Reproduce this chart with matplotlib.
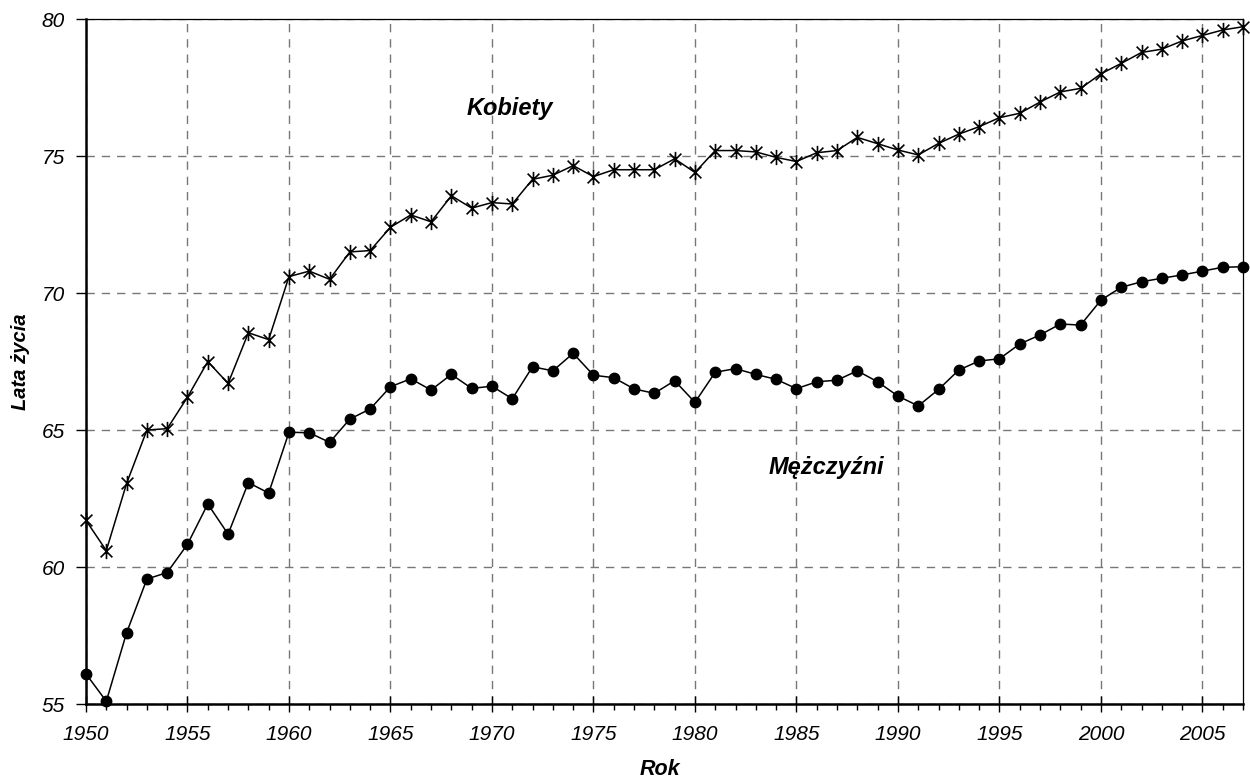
import numpy as np
import matplotlib
matplotlib.use("Agg")
import matplotlib.pyplot as plt
from matplotlib.path import Path
from matplotlib.ticker import MultipleLocator

plt.rcParams['font.family'] = ['Liberation Sans', 'DejaVu Sans']

# life expectancy in Poland, 1950-2007
years = list(range(1950, 2008))

kobiety = [61.7, 60.6, 63.05, 65.0, 65.05, 66.2, 67.5, 66.7, 68.55, 68.3,
           70.6, 70.8, 70.5, 71.5, 71.55, 72.4, 72.85, 72.6, 73.55, 73.1,
           73.3, 73.25, 74.15, 74.3, 74.65, 74.25, 74.5, 74.5, 74.5, 74.9,
           74.4, 75.2, 75.2, 75.15, 74.95, 74.8, 75.12, 75.2, 75.68, 75.45,
           75.22, 75.04, 75.46, 75.8, 76.07, 76.4, 76.56, 76.97, 77.34, 77.47,
           78.0, 78.38, 78.78, 78.9, 79.2, 79.4, 79.6, 79.72]

mezczyzni = [56.1, 55.1, 57.6, 59.56, 59.8, 60.83, 62.3, 61.2, 63.08, 62.7,
             64.92, 64.9, 64.55, 65.4, 65.77, 66.58, 66.87, 66.46, 67.03, 66.52,
             66.6, 66.14, 67.31, 67.16, 67.8, 67.0, 66.91, 66.5, 66.34, 66.8,
             66.01, 67.11, 67.24, 67.03, 66.85, 66.51, 66.76, 66.82, 67.16, 66.76,
             66.24, 65.88, 66.48, 67.19, 67.52, 67.6, 68.14, 68.47, 68.87, 68.83,
             69.74, 70.21, 70.41, 70.54, 70.66, 70.8, 70.94, 70.96]

# asterisk marker: X with a vertical bar
star = Path([(-1, -1), (1, 1), (-1, 1), (1, -1), (0, -1.3), (0, 1.3)],
            [Path.MOVETO, Path.LINETO, Path.MOVETO, Path.LINETO, Path.MOVETO, Path.LINETO])

fig = plt.figure(figsize=(12.5, 7.8), dpi=100)
ax = fig.add_axes([0.0688, 0.0974, 0.9256, 0.8782])

ax.plot(years, kobiety, color='black', lw=1.1, marker=star, markersize=11,
        markeredgewidth=1.2, markerfacecolor='none', markeredgecolor='black', clip_on=False)
ax.plot(years, mezczyzni, color='black', lw=1.1, marker='o', markersize=7.5,
        markerfacecolor='black', markeredgecolor='black', clip_on=False, zorder=3)

ax.set_xlim(1950, 2007)
ax.set_ylim(55, 80)
ax.xaxis.set_major_locator(MultipleLocator(5))
ax.xaxis.set_minor_locator(MultipleLocator(1))
ax.yaxis.set_major_locator(MultipleLocator(5))

ax.grid(True, which='major', color='#777777', linestyle=(0, (6, 5)), linewidth=1.0)
ax.set_axisbelow(True)

ax.spines['left'].set_linewidth(1.8)
ax.spines['bottom'].set_linewidth(1.8)
ax.spines['top'].set_linewidth(0.9)
ax.spines['right'].set_linewidth(0.9)

ax.tick_params(axis='y', which='major', direction='out', length=7, width=1,
               labelsize=15, pad=8)
ax.tick_params(axis='x', which='major', direction='inout', length=12, width=1,
               labelsize=15, pad=9)
ax.tick_params(axis='x', which='minor', direction='out', length=4, width=1)
for lab in ax.get_xticklabels() + ax.get_yticklabels():
    lab.set_fontstyle('italic')

ax.set_xlabel('Rok', fontsize=15.5, fontweight='bold', fontstyle='italic')
ax.set_ylabel('Lata życia', fontsize=14.5, fontweight='bold', fontstyle='italic')
ax.xaxis.set_label_coords(0.496, -0.080)
ax.yaxis.set_label_coords(-0.048, 0.50)

ax.text(1970.9, 76.5, 'Kobiety', fontsize=17, fontweight='bold', fontstyle='italic',
        ha='center', va='baseline')
ax.text(1986.5, 63.4, 'Mężczyźni', fontsize=17, fontweight='bold', fontstyle='italic',
        ha='center', va='baseline')

fig.savefig('out.png', dpi=100)
